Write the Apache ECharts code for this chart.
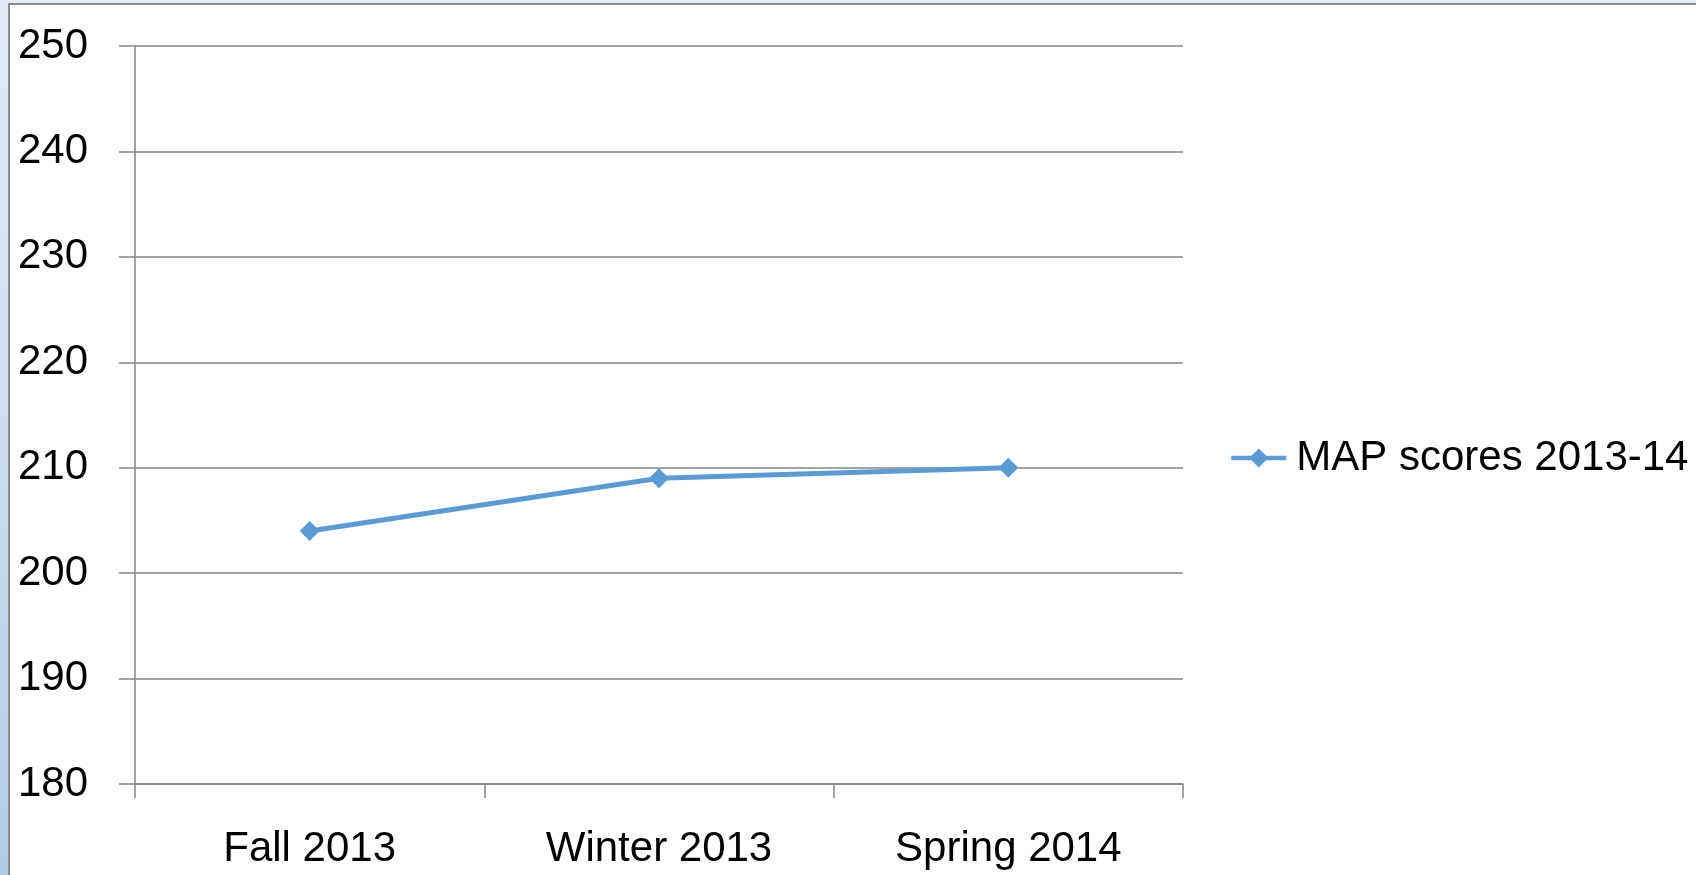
<!DOCTYPE html>
<html>
<head>
<meta charset="utf-8">
<script src="https://cdn.jsdelivr.net/npm/echarts@6/dist/echarts.min.js"></script>
<style>
  html, body { margin: 0; padding: 0; width: 1696px; height: 875px; overflow: hidden; }
  body { background: linear-gradient(to bottom, #e2ebf6 0%, #cadcf0 55%, #aecbe9 100%); position: relative; }
  #chart {
    position: absolute; left: 8px; top: 3px;
    width: 1686px; height: 870px;
    border-left: 2px solid #8c8c8c; border-top: 2px solid #8c8c8c;
    background: #fff;
  }
</style>
</head>
<body>
<div id="chart"></div>
<script>
// categories and values
const terms = ['Fall 2013', 'Winter 2013', 'Spring 2014'];
const mapScores = [204, 209, 210];
const seriesName = 'MAP scores 2013-14';

const yMin = 180;
const yMax = 250;
const yStep = 10;

const gridGrey = '#868686';
const lineBlue = '#5b9bd5';
const font = '"Liberation Sans", Arial, sans-serif';

const chart = echarts.init(document.getElementById('chart'));

chart.setOption({
  animation: false,
  textStyle: { fontFamily: font },
  grid: { left: 125, top: 41, right: 513, bottom: 91, containLabel: false },
  legend: {
    left: 1214,
    top: 427,
    orient: 'vertical',
    itemWidth: 55,
    itemHeight: 24,
    lineStyle: { width: 4.5 },
    textStyle: { fontSize: 42, color: '#000', fontFamily: font, padding: [0, 0, 0, 5] },
    data: [seriesName]
  },
  xAxis: {
    type: 'category',
    data: terms,
    boundaryGap: true,
    axisLine: { show: true, lineStyle: { color: gridGrey, width: 1.5 } },
    axisTick: { show: true, length: 14, lineStyle: { color: gridGrey, width: 1.5 } },
    axisLabel: { color: '#000', fontSize: 42, margin: 44, fontFamily: font },
    splitLine: { show: false }
  },
  yAxis: {
    type: 'value',
    min: yMin,
    max: yMax,
    interval: yStep,
    axisLine: { show: true, lineStyle: { color: gridGrey, width: 1.5 } },
    axisTick: { show: true, length: 16, lineStyle: { color: gridGrey, width: 1.5 } },
    axisLabel: { color: '#000', fontSize: 42, margin: 47, fontFamily: font },
    splitLine: { show: true, lineStyle: { color: gridGrey, width: 1.5 } }
  },
  series: [{
    name: seriesName,
    type: 'line',
    data: mapScores,
    symbol: 'diamond',
    symbolSize: 20,
    lineStyle: { color: lineBlue, width: 5 },
    itemStyle: { color: lineBlue }
  }]
});
</script>
</body>
</html>
